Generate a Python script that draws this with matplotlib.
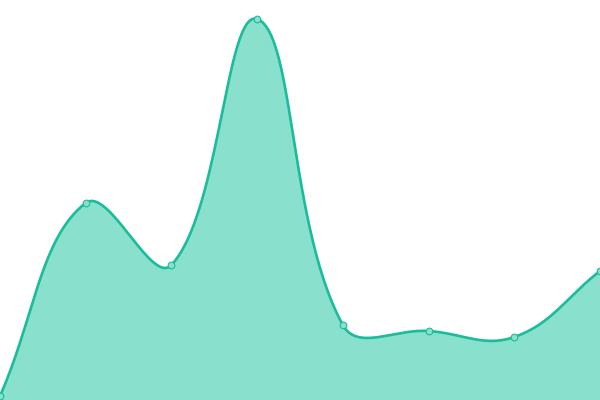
import numpy as np
import matplotlib
matplotlib.use("Agg")
import matplotlib.pyplot as plt

# values (axis 0..400)
positions = [0, 1, 2, 3, 4, 5, 6, 7]
values = [4, 197, 135, 381, 75, 69, 63, 129]

LINE = "#1abc9c"
FILL = "#88e0cd"
TENSION = 0.4


def spline_controls(xs, ys, t):
    # Chart.js style cardinal spline control points
    n = len(xs)
    ctrl = []
    for i in range(n):
        p0 = (xs[max(i - 1, 0)], ys[max(i - 1, 0)])
        p1 = (xs[i], ys[i])
        p2 = (xs[min(i + 1, n - 1)], ys[min(i + 1, n - 1)])
        d01 = np.hypot(p1[0] - p0[0], p1[1] - p0[1])
        d12 = np.hypot(p2[0] - p1[0], p2[1] - p1[1])
        tot = d01 + d12
        s01 = d01 / tot if tot else 0
        s12 = d12 / tot if tot else 0
        fa, fb = t * s01, t * s12
        prev_c = (p1[0] - fa * (p2[0] - p0[0]), p1[1] - fa * (p2[1] - p0[1]))
        next_c = (p1[0] + fb * (p2[0] - p0[0]), p1[1] + fb * (p2[1] - p0[1]))
        ctrl.append((prev_c, next_c))
    return ctrl


def smooth_curve(xs, ys, t, steps=60):
    ctrl = spline_controls(xs, ys, t)
    out_x, out_y = [], []
    s = np.linspace(0, 1, steps)
    for i in range(len(xs) - 1):
        a = np.array([xs[i], ys[i]])
        b = np.array(ctrl[i][1])
        c = np.array(ctrl[i + 1][0])
        d = np.array([xs[i + 1], ys[i + 1]])
        # keep control points inside chart area
        b[1] = np.clip(b[1], 0, 400)
        c[1] = np.clip(c[1], 0, 400)
        pts = ((1 - s) ** 3)[:, None] * a + (3 * (1 - s) ** 2 * s)[:, None] * b \
            + (3 * (1 - s) * s ** 2)[:, None] * c + (s ** 3)[:, None] * d
        out_x.extend(pts[:, 0])
        out_y.extend(pts[:, 1])
    return np.array(out_x), np.array(out_y)


# work in pixel space so the tension behaves like the original
xscale = 600 / (len(positions) - 1)
px = [p * xscale for p in positions]
cx, cy = smooth_curve(px, values, TENSION)
cx = cx / xscale

fig = plt.figure(figsize=(6, 4), dpi=100)
ax = fig.add_axes([0, 0, 1, 1])
ax.fill_between(cx, cy, 0, color=FILL, linewidth=0)
ax.plot(cx, cy, color=LINE, linewidth=1.9, solid_capstyle="round")
ax.plot(positions, values, linestyle="none", marker="o", markersize=4.8,
        markerfacecolor=FILL, markeredgecolor=LINE, markeredgewidth=0.8)
ax.set_xlim(0, 7)
ax.set_ylim(0, 400)
ax.axis("off")
fig.savefig("out.png", dpi=100)
